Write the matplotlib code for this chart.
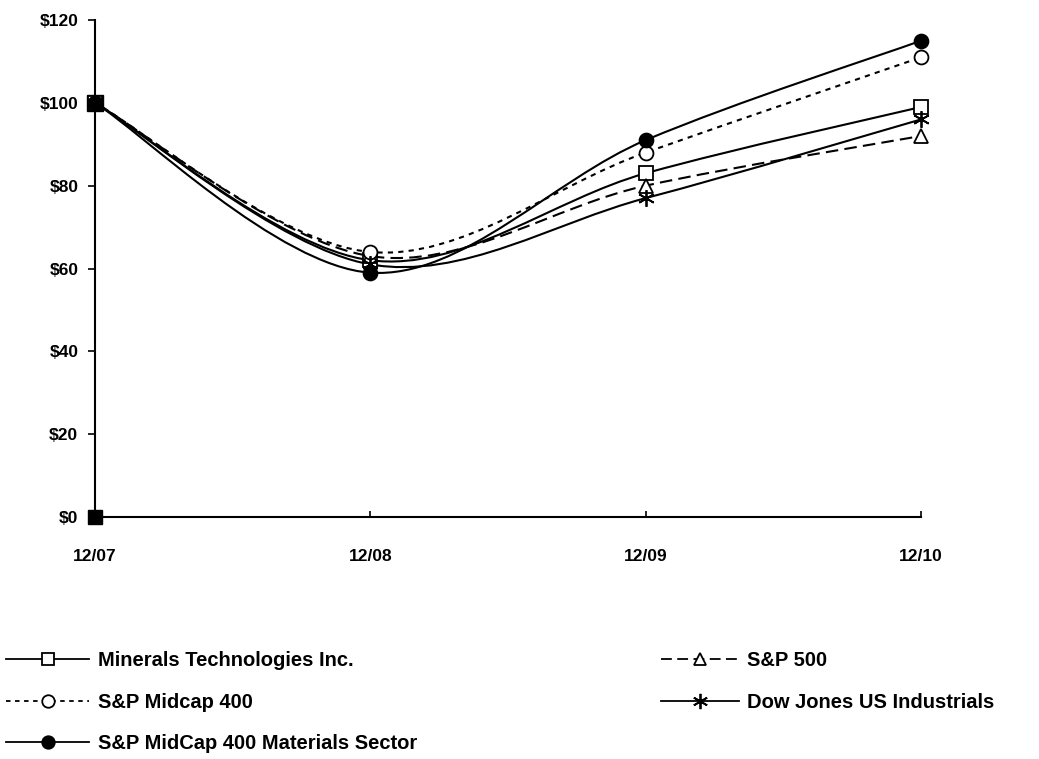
import numpy as np
import matplotlib
matplotlib.use("Agg")
import matplotlib.pyplot as plt
from matplotlib.path import Path
from matplotlib.patches import PathPatch
from matplotlib.lines import Line2D

plt.rcParams['font.family'] = ['Liberation Sans', 'DejaVu Sans']
plt.rcParams['font.weight'] = 'bold'

# ==== dados ====
datas = ['12/07', '12/08', '12/09', '12/10']
minerals = [100, 62, 83, 99]
sp500 = [100, 63, 80, 92]
midcap = [100, 64, 88, 111]
dowjones = [100, 61, 77, 96]
materials = [100, 59, 91, 115]
yticks = [0, 20, 40, 60, 80, 100, 120]

# (rotulo, valores, estilo da linha, marcador, preenchimento)
series = [
    ('Minerals Technologies Inc.', minerals, '-', 's', 'white'),
    ('S&P 500', sp500, (0, (6, 3)), '^', 'white'),
    ('S&P Midcap 400', midcap, (0, (2.5, 2.5)), 'o', 'white'),
    ('Dow Jones US Industrials', dowjones, '-', (6, 2, 0), 'black'),
    ('S&P MidCap 400 Materials Sector', materials, '-', 'o', 'black'),
]


def curva_suave(xs, ys):
    # bezier tipo catmull-rom (como a suavizacao do excel)
    pts = list(zip(xs, ys))
    verts = [pts[0]]
    codes = [Path.MOVETO]
    n = len(pts)
    for k in range(n - 1):
        p0 = np.array(pts[max(k - 1, 0)], float)
        p1 = np.array(pts[k], float)
        p2 = np.array(pts[k + 1], float)
        p3 = np.array(pts[min(k + 2, n - 1)], float)
        c1 = p1 + (p2 - p0) / 6
        c2 = p2 - (p3 - p1) / 6
        verts += [tuple(c1), tuple(c2), tuple(p2)]
        codes += [Path.CURVE4] * 3
    return Path(verts, codes)


fig = plt.figure(figsize=(10.39, 7.59), dpi=100)
ax = fig.add_axes([0.0914, 0.3188, 0.795, 0.6548])

x = np.arange(len(datas))
handles = {}
for nome, vals, ls, mk, fc in series:
    ax.add_patch(PathPatch(curva_suave(x, vals), facecolor='none',
                           edgecolor='black', lw=1.5, linestyle=ls, zorder=2))
    ms = 12 if mk == (6, 2, 0) else 10
    ax.plot(x, vals, linestyle='none', marker=mk, ms=ms, mfc=fc,
            mec='black', mew=1.3, zorder=3, clip_on=False)
    handles[nome] = Line2D([], [], color='black', lw=1.3, linestyle=ls,
                           marker=mk, ms=ms - 1, mfc=fc, mec='black', mew=1.3)

# quadrado preto no zero
ax.plot([0], [0], linestyle='none', marker='s', ms=10, color='black',
        zorder=4, clip_on=False)
ax.plot([0], [100], linestyle='none', marker='s', ms=11, color='black',
        zorder=1, clip_on=False)

ax.set_xlim(0, 3)
ax.set_ylim(0, 120)
ax.set_xticks(x)
ax.set_xticklabels(datas)
ax.set_yticks(yticks)
ax.set_yticklabels(['$%d' % v for v in yticks])
for s in ['top', 'right']:
    ax.spines[s].set_visible(False)
for s in ['left', 'bottom']:
    ax.spines[s].set_linewidth(1.5)
ax.tick_params(axis='x', direction='in', length=4, width=1.2, pad=23,
               labelsize=12.5)
ax.tick_params(axis='y', direction='out', length=5, width=1.2, pad=7,
               labelsize=12.5)

# legenda em duas colunas
esq = ['Minerals Technologies Inc.', 'S&P Midcap 400',
       'S&P MidCap 400 Materials Sector']
dir_ = ['S&P 500', 'Dow Jones US Industrials']
leg1 = fig.legend([handles[n] for n in esq], esq, loc='upper left',
                  bbox_to_anchor=(0.006, 0.142), frameon=False,
                  handlelength=4.1, handletextpad=0.45, labelspacing=1.11,
                  prop={'size': 14.5, 'weight': 'bold'}, borderaxespad=0,
                  borderpad=0)
leg2 = fig.legend([handles[n] for n in dir_], dir_, loc='upper left',
                  bbox_to_anchor=(0.636, 0.142), frameon=False,
                  handlelength=3.9, handletextpad=0.4, labelspacing=1.11,
                  prop={'size': 14.5, 'weight': 'bold'}, borderaxespad=0,
                  borderpad=0)

fig.savefig('out.png', dpi=100)
